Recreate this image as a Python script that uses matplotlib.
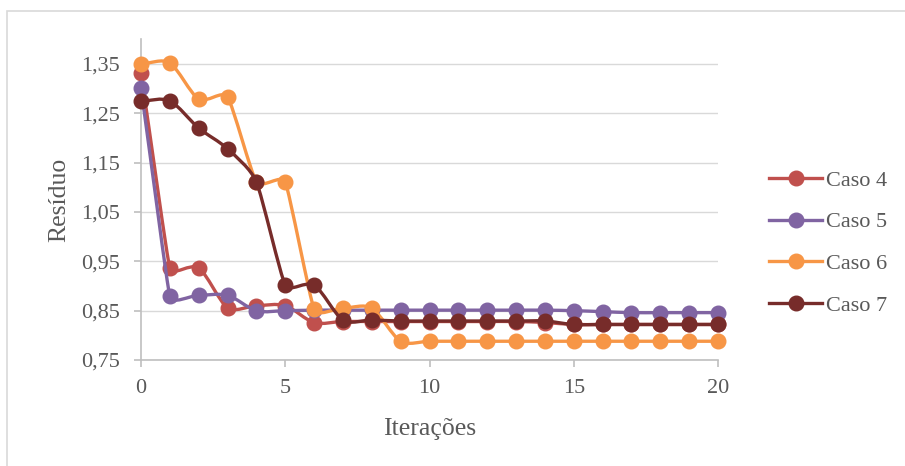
import matplotlib.pyplot as plt
from matplotlib.path import Path
from matplotlib.patches import PathPatch, Rectangle
from matplotlib.lines import Line2D

# Residuo por iteracao para cada caso
iteracoes = list(range(21))
caso4 = [1.332, 0.936, 0.937, 0.856, 0.860, 0.860, 0.826, 0.828, 0.828, 0.828, 0.828,
         0.828, 0.828, 0.828, 0.826, 0.822, 0.822, 0.822, 0.822, 0.822, 0.822]
caso5 = [1.301, 0.879, 0.881, 0.881, 0.850, 0.850, 0.851, 0.851, 0.851, 0.851, 0.851,
         0.851, 0.851, 0.851, 0.851, 0.850, 0.848, 0.846, 0.846, 0.846, 0.846]
caso6 = [1.350, 1.352, 1.279, 1.283, 1.111, 1.111, 0.853, 0.855, 0.855, 0.788, 0.788,
         0.788, 0.788, 0.788, 0.788, 0.788, 0.788, 0.788, 0.788, 0.788, 0.788]
caso7 = [1.275, 1.275, 1.220, 1.178, 1.111, 0.902, 0.902, 0.831, 0.831, 0.829, 0.829,
         0.829, 0.829, 0.829, 0.829, 0.822, 0.822, 0.822, 0.822, 0.822, 0.822]

series = [('Caso 4', caso4, '#C0504D'),
          ('Caso 5', caso5, '#8064A2'),
          ('Caso 6', caso6, '#F79646'),
          ('Caso 7', caso7, '#772C2A')]

txt = '#595959'
serif = ['Liberation Serif', 'DejaVu Serif']


def smooth_path(xs, ys, sx, sy, k=0.33):
    # curva suavizada: tangente pela direcao dos vizinhos, braco limitado
    # pelo menor segmento adjacente (medido em pixels)
    pts = [(x * sx, y * sy) for x, y in zip(xs, ys)]
    n = len(pts)

    def dist(a, b):
        return ((b[0] - a[0]) ** 2 + (b[1] - a[1]) ** 2) ** 0.5

    seg = [dist(pts[i], pts[i + 1]) for i in range(n - 1)]

    def tangente(i):
        a = pts[max(i - 1, 0)]
        b = pts[min(i + 1, n - 1)]
        d = dist(a, b) or 1.0
        return (b[0] - a[0]) / d, (b[1] - a[1]) / d

    def braco(i):
        viz = [seg[j] for j in (i - 1, i) if 0 <= j < n - 1]
        return k * min(viz)

    verts = [pts[0]]
    codes = [Path.MOVETO]
    for i in range(n - 1):
        p1, p2 = pts[i], pts[i + 1]
        t1, t2 = tangente(i), tangente(i + 1)
        a1, a2 = braco(i), braco(i + 1)
        c1 = (p1[0] + t1[0] * a1, p1[1] + t1[1] * a1)
        c2 = (p2[0] - t2[0] * a2, p2[1] - t2[1] * a2)
        verts += [c1, c2, p2]
        codes += [Path.CURVE4] * 3
    verts = [(x / sx, y / sy) for x, y in verts]
    return Path(verts, codes)


fig = plt.figure(figsize=(9.05, 4.66), dpi=100)
ax = fig.add_axes([141 / 905, 1 - 360 / 466, 577 / 905, (360 - 39.3) / 466])
ax.set_xlim(0, 20)
ax.set_ylim(0.75, 1.40)

# escala pixel por unidade de dado em cada eixo
sx = 577 / 20
sy = (360 - 39.3) / 0.65

handles = []
z = 3
for nome, vals, cor in series:
    ax.add_patch(PathPatch(smooth_path(iteracoes, vals, sx, sy), fill=False, edgecolor=cor,
                           lw=2.4, capstyle='round', joinstyle='round', zorder=z))
    ax.plot(iteracoes, vals, 'o', color=cor, markersize=10.5, zorder=z + 0.5,
            clip_on=False)
    handles.append(Line2D([], [], color=cor, lw=2.4, marker='o', markersize=10.5,
                          label=nome))
    z += 1

ax.set_xticks([0, 5, 10, 15, 20])
yt = [0.75, 0.85, 0.95, 1.05, 1.15, 1.25, 1.35]
ax.set_yticks(yt)
ax.set_yticklabels([f'{v:.2f}'.replace('.', ',') for v in yt])
ax.grid(axis='y', color='#D9D9D9', lw=1.0)
ax.set_axisbelow(True)

for s in ['top', 'right']:
    ax.spines[s].set_visible(False)
for s in ['left', 'bottom']:
    ax.spines[s].set_color('#BFBFBF')
    ax.spines[s].set_linewidth(1.2)

ax.tick_params(axis='both', colors='#BFBFBF', labelcolor=txt, width=1.2,
               length=5, labelsize=16)
ax.tick_params(axis='y', pad=10)
ax.tick_params(axis='x', pad=9)
for lab in ax.get_xticklabels() + ax.get_yticklabels():
    lab.set_family(serif)

ax.set_xlabel('Iterações', family=serif, fontsize=18.5, color=txt, labelpad=14)
ax.set_ylabel('Resíduo', family=serif, fontsize=18.5, color=txt, labelpad=8)

leg = fig.legend(handles=handles, loc='center left', bbox_to_anchor=(769 / 905, 1 - 243 / 466),
                 frameon=False, prop={'family': serif, 'size': 16}, handlelength=2.4,
                 handletextpad=0.15, labelspacing=0.95, borderpad=0, borderaxespad=0)
for t in leg.get_texts():
    t.set_color(txt)

# moldura do grafico
fig.add_artist(Rectangle((7 / 905, -0.1), 1.1, 1.1 - 11 / 466, transform=fig.transFigure,
                         fill=False, edgecolor='#D9D9D9', lw=1.2))

fig.savefig('out.png', dpi=100)
